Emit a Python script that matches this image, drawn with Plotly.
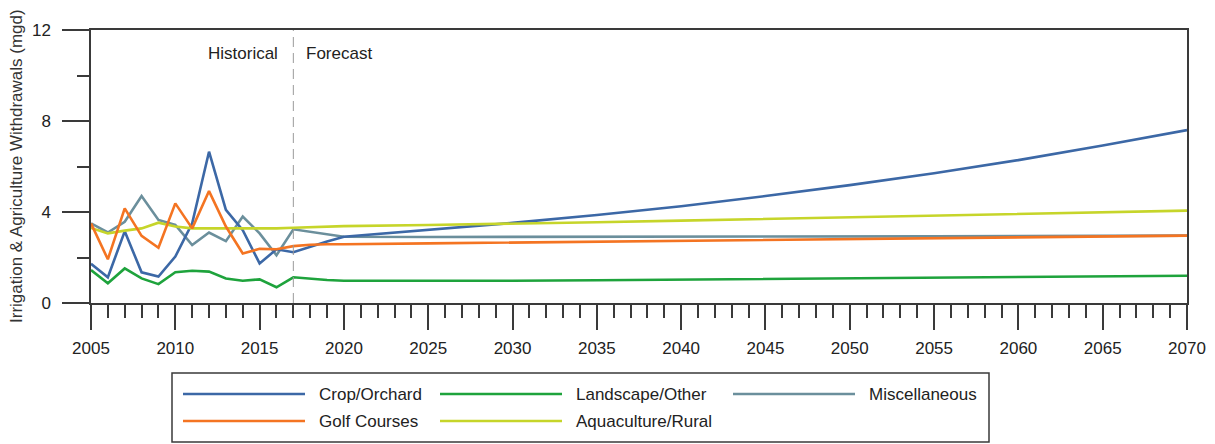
import plotly.graph_objects as go

# ---------------- data ----------------
years = [2005, 2006, 2007, 2008, 2009, 2010, 2011, 2012, 2013, 2014, 2015, 2016, 2017,
         2018, 2019, 2020, 2025, 2030, 2035, 2040, 2045, 2050, 2055, 2060, 2065, 2070]

crop_orchard = [1.72, 1.13, 3.15, 1.35, 1.16, 2.04, 3.50, 6.65, 4.09, 3.20, 1.74, 2.36, 2.23,
                2.47, 2.70, 2.91, 3.20, 3.52, 3.87, 4.25, 4.70, 5.18, 5.70, 6.28, 6.92, 7.60]
golf_courses = [3.50, 1.92, 4.16, 2.95, 2.43, 4.38, 3.28, 4.92, 3.36, 2.18, 2.38, 2.36, 2.50,
                2.56, 2.58, 2.58, 2.62, 2.66, 2.70, 2.74, 2.78, 2.82, 2.86, 2.89, 2.93, 2.96]
landscape_other = [1.45, 0.87, 1.52, 1.08, 0.83, 1.35, 1.42, 1.38, 1.08, 0.98, 1.04, 0.69, 1.13,
                   1.06, 1.01, 0.98, 0.97, 0.98, 1.00, 1.03, 1.05, 1.08, 1.11, 1.14, 1.17, 1.20]
miscellaneous = [3.50, 3.10, 3.57, 4.70, 3.65, 3.43, 2.55, 3.10, 2.72, 3.80, 3.06, 2.10, 3.24,
                 3.13, 3.02, 2.91, 2.90, 2.90, 2.90, 2.90, 2.91, 2.92, 2.93, 2.94, 2.95, 2.96]
aquaculture_rural = [3.30, 3.06, 3.18, 3.28, 3.53, 3.36, 3.28, 3.28, 3.30, 3.27, 3.27, 3.28, 3.31,
                     3.33, 3.35, 3.38, 3.43, 3.48, 3.55, 3.62, 3.69, 3.76, 3.83, 3.91, 3.98, 4.06]

forecast_start = 2017

series = [
    ("Miscellaneous", miscellaneous, "#6b8f9c"),
    ("Crop/Orchard", crop_orchard, "#3c68a6"),
    ("Landscape/Other", landscape_other, "#1ea33c"),
    ("Aquaculture/Rural", aquaculture_rural, "#c6d52a"),
    ("Golf Courses", golf_courses, "#f47422"),
]

# legend layout (rows x columns as in the reference)
legend_order = [
    ("Crop/Orchard", 0, 0), ("Landscape/Other", 0, 1), ("Miscellaneous", 0, 2),
    ("Golf Courses", 1, 0), ("Aquaculture/Rural", 1, 1),
]
colors = {name: c for name, _, c in series}

FONT = "Liberation Sans, Arial, sans-serif"
W, H = 1215, 444
ML, MR, MT, MB = 91, 28, 30, 141
PW, PH = W - ML - MR, H - MT - MB


def px_x(px):
    return (px - ML) / PW


def px_y(py):
    return (H - MB - py) / PH


fig = go.Figure()
for name, vals, col in series:
    fig.add_trace(go.Scatter(x=years, y=vals, mode="lines", name=name,
                             line=dict(color=col, width=2.6), showlegend=False))

axis_common = dict(
    showline=True, mirror=True, linecolor="#3a3a3a", linewidth=1.5,
    showgrid=False, zeroline=False, ticks="outside", tickcolor="#3a3a3a", tickwidth=1.5,
    tickfont=dict(family=FONT, size=17, color="#222222"),
)

fig.update_xaxes(range=[2005, 2070], tick0=2005, dtick=5, ticklen=25,
                 minor=dict(ticks="outside", dtick=1, ticklen=13, tickcolor="#3a3a3a", tickwidth=1.5),
                 ticklabelstandoff=4, **axis_common)
fig.update_yaxes(range=[0, 12], tick0=0, dtick=4, ticklen=27,
                 minor=dict(ticks="outside", dtick=2, ticklen=12, tickcolor="#3a3a3a", tickwidth=1.5),
                 ticklabelstandoff=8, **axis_common)

shapes = [
    dict(type="line", xref="x", yref="paper", x0=forecast_start, x1=forecast_start, y0=0, y1=1,
         line=dict(color="#9a9a9a", width=1, dash="10px,6px")),
    # legend box
    dict(type="rect", xref="paper", yref="paper",
         x0=px_x(172), x1=px_x(989), y0=px_y(373), y1=px_y(442),
         line=dict(color="#3a3a3a", width=1.5), fillcolor="white"),
]
annotations = [
    dict(text="Historical", xref="x", yref="paper", x=forecast_start, y=px_y(53),
         xanchor="right", yanchor="middle", xshift=-13, showarrow=False,
         font=dict(family=FONT, size=17, color="#222222")),
    dict(text="Forecast", xref="x", yref="paper", x=forecast_start, y=px_y(53),
         xanchor="left", yanchor="middle", xshift=11, showarrow=False,
         font=dict(family=FONT, size=17, color="#222222")),
    dict(text="Irrigation & Agriculture Withdrawals (mgd)", xref="paper", yref="paper",
         x=px_x(16), y=px_y(166), xanchor="center", yanchor="middle", textangle=-90,
         showarrow=False, font=dict(family=FONT, size=17, color="#333333")),
]

col_x = [183, 440, 733]
row_y = [394, 421]
for name, r, c in legend_order:
    x0 = col_x[c]
    y = row_y[r]
    shapes.append(dict(type="line", xref="paper", yref="paper",
                       x0=px_x(x0), x1=px_x(x0 + 122), y0=px_y(y), y1=px_y(y),
                       line=dict(color=colors[name], width=2.6)))
    annotations.append(dict(text=name, xref="paper", yref="paper", x=px_x(x0 + 134), y=px_y(y),
                            xanchor="left", yanchor="middle", showarrow=False,
                            font=dict(family=FONT, size=17, color="#222222")))

fig.update_layout(
    width=W, height=H, margin=dict(l=ML, r=MR, t=MT, b=MB, autoexpand=False),
    paper_bgcolor="white", plot_bgcolor="white",
    shapes=shapes, annotations=annotations, showlegend=False,
)

fig.write_html(
    "out.html",
    config={"displayModeBar": False},
    post_script="document.body.style.margin='0';document.body.style.overflow='hidden';",
)
